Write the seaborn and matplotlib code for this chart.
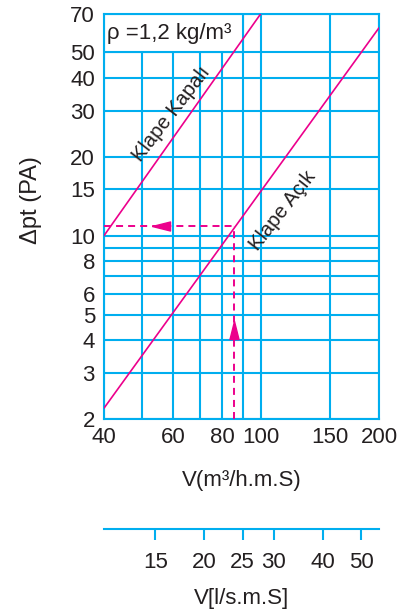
import matplotlib
matplotlib.use("Agg")
import matplotlib.pyplot as plt
from matplotlib.ticker import NullLocator
import pandas as pd
import seaborn as sns

# ---------------- data ----------------
flow_grid = [40, 50, 60, 70, 80, 90, 100, 150, 200]          # m3/h gridlines
flow_labels = [40, 60, 80, 100, 150, 200]                     # labelled ones
dp_grid = [2, 3, 4, 5, 6, 7, 8, 9, 10, 15, 20, 30, 40, 50, 70]
dp_labels = [2, 3, 4, 5, 6, 8, 10, 15, 20, 30, 40, 50, 70]

kapali_flow = [40, 100]
kapali_dp = [10, 70]
acik_flow = [40, 200]
acik_dp = [2.2, 62]

example_flow = 85.7      # read-off example (m3/h)
example_dp = 10.85       # resulting pressure drop (Pa)
arrow_h_flow = 56        # arrowhead on horizontal dashed line
arrow_v_dp = 4.35        # arrowhead on vertical dashed line

ls_ticks = [15, 20, 25, 30, 40, 50]   # l/s scale
M3H_PER_LS = 3.6

box_flow = [40, 90]
box_dp = [50, 70]

CYAN = "#00AEEF"
MAGENTA = "#EC008C"
INK = "#231F20"

sns.set_style("white")
plt.rcParams["font.family"] = ["Liberation Sans", "DejaVu Sans"]

fig = plt.figure(figsize=(4.03, 6.13), dpi=100)
ax = fig.add_axes([104 / 403, 1 - 419 / 613, 275 / 403, 405 / 613])
ax.set_xscale("log")
ax.set_yscale("log")
ax.set_xlim(flow_grid[0], flow_grid[-1])
ax.set_ylim(dp_grid[0], dp_grid[-1])

# curves
df = pd.DataFrame({
    "flow": kapali_flow + acik_flow,
    "dp": kapali_dp + acik_dp,
    "curve": ["Klape Kapalı"] * len(kapali_flow) + ["Klape Açık"] * len(acik_flow),
})
sns.lineplot(data=df, x="flow", y="dp", hue="curve", palette=[MAGENTA, MAGENTA],
             legend=False, ax=ax, lw=1.2, zorder=3, estimator=None, sort=True)

# dashed read-off lines
dash = (0, (3.6, 2.6))
ax.plot([flow_grid[0], example_flow], [example_dp, example_dp], color=MAGENTA,
        lw=1.4, ls=dash, zorder=3)
ax.plot([example_flow, example_flow], [dp_grid[0], example_dp], color=MAGENTA,
        lw=1.4, ls=dash, zorder=3)
left_tri = [(-1, 0), (1, 0.5), (1, -0.5), (-1, 0)]
up_tri = [(0, 1), (0.5, -1), (-0.5, -1), (0, 1)]
ax.plot([arrow_h_flow], [example_dp], marker=left_tri, markersize=13,
        color=MAGENTA, ls="none", zorder=4)
ax.plot([example_flow], [arrow_v_dp], marker=up_tri, markersize=13,
        color=MAGENTA, ls="none", zorder=4)

# grid via ticks
ax.set_xticks(flow_grid, labels=[str(v) if v in flow_labels else "" for v in flow_grid])
ax.set_yticks(dp_grid, labels=[str(v) if v in dp_labels else "" for v in dp_grid])
ax.xaxis.set_minor_locator(NullLocator())
ax.yaxis.set_minor_locator(NullLocator())
ax.grid(True, which="major", color=CYAN, lw=1.5)
ax.set_axisbelow(True)
ax.tick_params(axis="both", length=0, labelsize=16, colors=INK)
ax.tick_params(axis="x", pad=5.5)
ax.tick_params(axis="y", pad=6.5)
for s in ax.spines.values():
    s.set_color(CYAN)
    s.set_linewidth(1.5)

# white box with density note
ax.fill_between(box_flow, box_dp[0], box_dp[1], facecolor="white",
                edgecolor=CYAN, lw=1.5, zorder=1.5)
ax.text(40.7, (box_dp[0] * box_dp[1]) ** 0.5, "ρ =1,2 kg/m³", fontsize=16,
        va="center", ha="left", color=INK, zorder=2)

# curve labels
ax.text(59.2, 29.1, "Klape Kapalı", rotation=52.3, rotation_mode="anchor",
        ha="center", va="center", fontsize=14.5, color=INK, zorder=3)
ax.text(113.6, 12.4, "Klape Açık", rotation=52, rotation_mode="anchor",
        ha="center", va="center", fontsize=14.5, color=INK, zorder=3)

ax.set_xlabel("V(m³/h.m.S)", fontsize=16, labelpad=16, color=INK)
ax.set_ylabel("Δpt (PA)", fontsize=17, color=INK)
ax.yaxis.set_label_coords(-0.2255, 0.541)

# secondary l/s axis
sec = ax.secondary_xaxis(-0.2716, functions=(lambda x: x / M3H_PER_LS,
                                             lambda x: x * M3H_PER_LS))
sec.set_xticks(ls_ticks, labels=[str(v) for v in ls_ticks])
sec.xaxis.set_minor_locator(NullLocator())
sec.tick_params(axis="x", direction="out", length=7.9, width=1.5, color=CYAN,
                labelsize=16, pad=8.5, labelcolor=INK)
sec.spines["bottom"].set_color(CYAN)
sec.spines["bottom"].set_linewidth(1.5)
sec.set_xlabel("V[l/s.m.S]", fontsize=16, labelpad=11, color=INK)

fig.savefig("out.png", dpi=100)
